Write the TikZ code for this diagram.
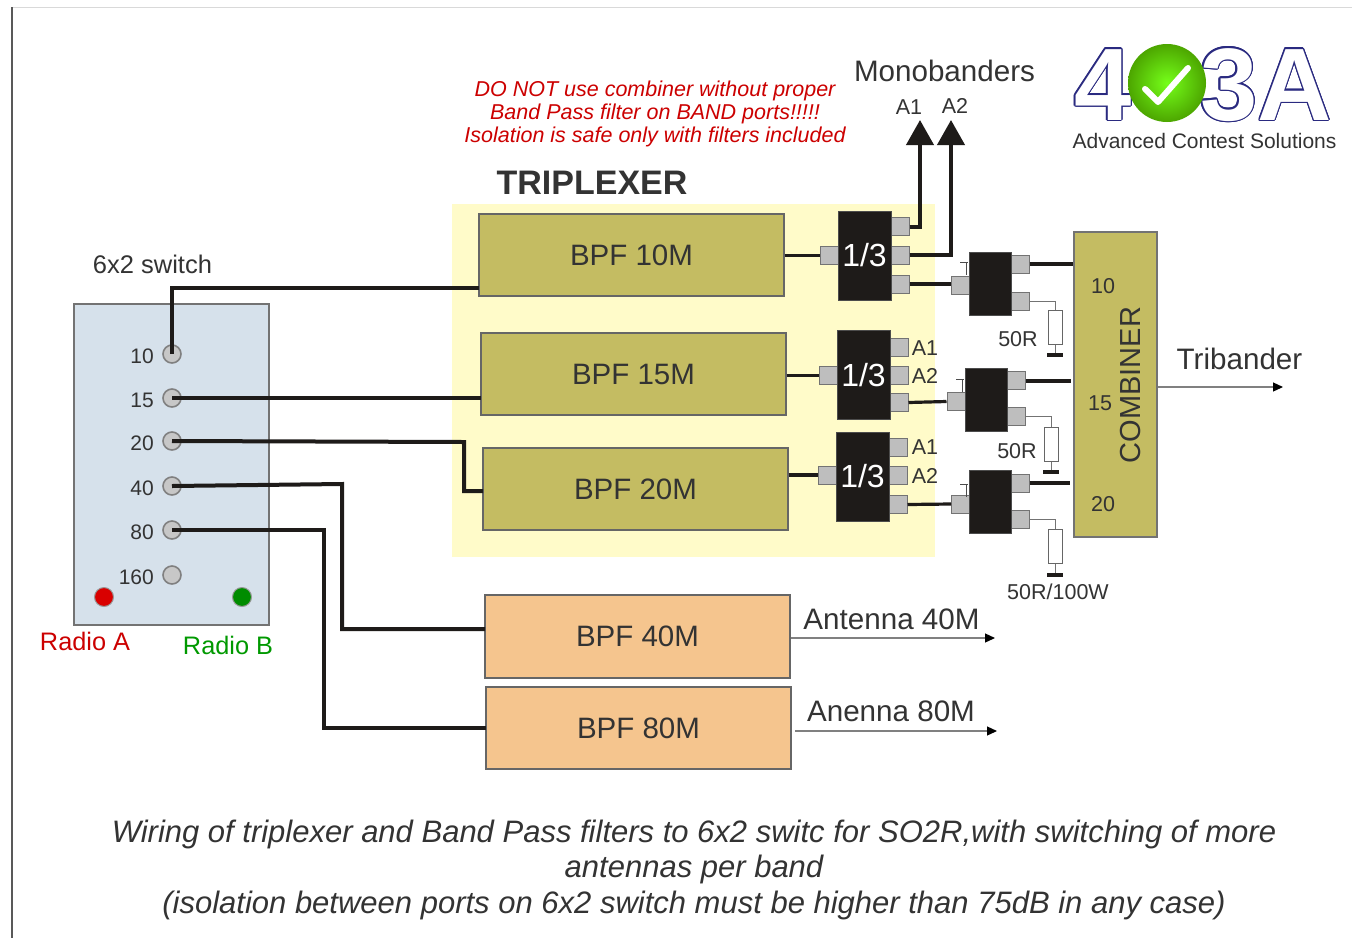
\documentclass[tikz,border=0pt]{standalone}
\usepackage{fontspec}
\usepackage{contour}
\setmainfont{Liberation Sans}
\usetikzlibrary{arrows.meta}
\definecolor{olivef}{HTML}{C4BC62}
\definecolor{oranf}{HTML}{F5C58E}
\definecolor{yelf}{HTML}{FFFBC9}
\definecolor{panelf}{HTML}{D6E1EB}
\definecolor{txt}{HTML}{333333}
\definecolor{blk}{HTML}{1E1B19}
\definecolor{portf}{HTML}{BEBEBE}
\definecolor{navyl}{HTML}{2A2A80}
\newcommand{\fsz}[1]{\fontsize{#1}{#1}\selectfont}
\tikzset{
 x=1pt,y=-1pt,
 lbl/.style={inner sep=0,text=txt,font=\fsz{21.5}},
 big/.style={inner sep=0,text=txt,font=\fsz{29.6}},
 bpfbox/.style={draw=black!60,line width=1.4pt,fill=olivef,inner sep=0,minimum width=305pt,minimum height=82pt,text=txt,font=\fsz{29.5}},
 bpfor/.style={bpfbox,fill=oranf},
 chip/.style={fill=blk,draw=black!70,line width=.5pt,inner sep=0,minimum width=53pt,minimum height=89pt,text=white,font=\fsz{32}},
 chipb/.style={fill=blk,draw=black!70,line width=.5pt,inner sep=0,minimum width=42pt,minimum height=63pt},
 port/.style={fill=portf,draw=black!55,line width=1pt,inner sep=0,minimum width=18pt,minimum height=18pt},
 res/.style={fill=white,draw=black!60,line width=1pt,inner sep=0,minimum width=14pt,minimum height=34pt},
 jack/.style={circle,fill=black!22,draw=black!50,line width=1.6pt,inner sep=0,minimum size=18pt},
 led/.style={circle,draw=black!40,line width=1pt,inner sep=0,minimum size=19pt},
 wire/.style={draw=blk,line width=4pt,line join=miter},
 wiret/.style={draw=blk,line width=3.2pt},
 thin lead/.style={draw=black!55,line width=1pt},
 gnd/.style={draw=blk,line width=4pt},
 bigarrow/.style={draw=blk,line width=4pt,-{Triangle[length=25pt,width=27pt]}},
 outarrow/.style={draw=black!50,line width=1.2pt,-{Triangle[length=10pt,width=9pt,color=black]}},
}
\begin{document}
\begin{tikzpicture}
\useasboundingbox (0,0) rectangle (1352,938);
\fill[white] (0,0) rectangle (1352,938);
\coordinate (ftl) at (12,7); \coordinate (ftr) at (1352,7); \coordinate (fbl) at (12,938);
\draw[black!15,line width=1pt] (ftl) -- (ftr);
\draw[black!65,line width=1.5pt] (ftl) -- (fbl);
\node[fill=yelf,inner sep=0,minimum width=483pt,minimum height=353pt] (yel) at (693.5,380.5) {};

% switch panel
\node[draw=black!55,line width=1.2pt,fill=panelf,inner sep=0,minimum width=195pt,minimum height=321pt] (panel) at (171.5,464.5) {};
\foreach \n/\y in {10/354,15/398,20/441,40/486,80/530,160/575}{
  \node[jack] (j\n) at (172,\y) {};
  \node[lbl,anchor=east,font=\fsz{21}] (t\n) at (154,\y+2) {\n};
}
\node[led,fill=red!85!black] (ledA) at (104,597) {};
\node[led,fill=green!55!black] (ledB) at (242,597) {};
\node[inner sep=0,text=red!80!black,font=\fsz{25.3}] (ra) at (85,641) {Radio A};
\node[inner sep=0,text=green!60!black,font=\fsz{25.3}] (rb) at (228,645) {Radio B};
\node[lbl,font=\fsz{25.5}] (sw) at (152.5,264) {6x2 switch};

% BPFs
\node[bpfbox] (b10) at (631.5,255) {BPF 10M};
\node[bpfbox] (b15) at (633.5,374) {BPF 15M};
\node[bpfbox] (b20) at (635.5,489) {BPF 20M};
\node[bpfor,minimum height=83pt] (b40) at (637.5,636.5) {BPF 40M};
\node[bpfor] (b80) at (638.5,728) {BPF 80M};

% 1/3 splitters
\node[port] (a1) at (829.5,255.5) {};
\node[port] (a2) at (900,226.5) {};
\node[port] (a3) at (900,255) {};
\node[port] (a4) at (900,284) {};
\node[chip] (s10) at (864.5,255.5) {1/3};
\node[port] (d1) at (828,375.5) {};
\node[port] (d2) at (899,347) {};
\node[port] (d3) at (899,375.5) {};
\node[port] (d4) at (899,402.5) {};
\node[chip] (s15) at (863.5,375) {1/3};
\node[port] (e1) at (827,475) {};
\node[port] (e2) at (898,447.5) {};
\node[port] (e3) at (898,475.5) {};
\node[port] (e4) at (898,504.5) {};
\node[chip] (s20) at (862.5,476.5) {1/3};
\node[lbl] (l1) at (925,348) {A1};
\node[lbl] (l2) at (925,376) {A2};
\node[lbl] (l3) at (925,447) {A1};
\node[lbl] (l4) at (925,476) {A2};

% second stage
\node[port] (f1) at (960,285.5) {};
\node[port] (f2) at (1020,264) {};
\node[port] (f3) at (1020,301) {};
\node[chipb] (c10) at (990,283.5) {};
\node[port] (g1) at (956,401.5) {};
\node[port] (g2) at (1016,380.5) {};
\node[port] (g3) at (1016,416) {};
\node[chipb] (c15) at (986,400) {};
\node[port] (h1) at (960.5,504) {};
\node[port] (h2) at (1020,483) {};
\node[port] (h3) at (1020,519) {};
\node[chipb] (c20) at (990,502) {};
\foreach \p/\x/\yy in {f/966/262,g/962/379,h/966/484}{
  \coordinate (\p t) at (\x,\yy);
  \draw[black!70,line width=1pt] (\x-6,\yy) -- (\x+2,\yy) (\x,\yy) -- (\x,\yy+13);
}

% resistors
\node[res] (r1) at (1055,327.5) {};
\node[res] (r2) at (1051,444) {};
\node[res] (r3) at (1055,546.5) {};
\coordinate (g1a) at (1055,355); \coordinate (g2a) at (1051,472); \coordinate (g3a) at (1055,575);
\draw[thin lead] (f3.east) -| (r1.north) (r1.south) -- (g1a);
\draw[thin lead] (g3.east) -| (r2.north) (r2.south) -- (g2a);
\draw[thin lead] (h3.east) -| (r3.north) (r3.south) -- (g3a);
\draw[gnd] ([xshift=-8pt]g1a) -- ([xshift=8pt]g1a);
\draw[gnd] ([xshift=-8pt]g2a) -- ([xshift=8pt]g2a);
\draw[gnd] ([xshift=-8pt]g3a) -- ([xshift=8pt]g3a);
\node[lbl] (o1) at (1018,339) {50R};
\node[lbl] (o2) at (1017,451) {50R};
\node[lbl] (o3) at (1058,592) {50R/100W};

% combiner
\node[draw=black!55,line width=1.2pt,fill=olivef,inner sep=0,minimum width=83pt,minimum height=305pt] (comb) at (1115.5,384.5) {};
\node[inner sep=0,text=txt,font=\fsz{29},rotate=90] (combt) at (1131,385) {COMBINER};
\node[lbl] (n10) at (1103,286) {10};
\node[lbl] (n15) at (1100,403) {15};
\node[lbl] (n20) at (1103,504) {20};

% wires chip-to-chip
\draw[wiret] (b10.east |- a1) -- (a1.west);
\draw[wiret] (b15.east |- d1) -- (d1.west);
\draw[wiret] (b20.east |- e1) -- (e1.west);
\draw[wiret] (a4.east) -- (f1.west |- a4);
\draw[wiret] (d4.east) -- (g1.west);
\draw[wiret] (e4.east) -- (h1.west);
\draw[wire] (f2.east) -- (comb.west |- f2);
\draw[wire] (g2.east) -- ([xshift=-2pt]comb.west |- g2);
\draw[wire] (h2.east) -- ([xshift=-3pt]comb.west |- h2);

% mono arrows
\node[lbl] (ma1) at (909,107) {A1};
\node[lbl] (ma2) at (955,106) {A2};
\coordinate (tip1) at (920,120); \coordinate (tip2) at (951,120);
\draw[bigarrow] (a2.east) -| (tip1);
\draw[bigarrow] (a3.east) -| (tip2);

% switch wires
\coordinate (w10) at (479,288);
\coordinate (w20a) at (464,442);
\coordinate (w20) at (483,491);
\coordinate (w40a) at (342,484);
\coordinate (w40) at (485,629);
\coordinate (w80) at (486,728);
\coordinate (w80a) at (324,530);
\coordinate (w15) at (481,398);
\draw[wire] (j10.center) |- (w10);
\draw[wire] (j15.center) -- (w15);
\draw[wire] (j20.center) -- (w20a) |- (w20);
\draw[wire] (j40.center) -- (w40a) |- (w40);
\draw[wire] (j80.center) -- (w80a) |- (w80);

% outputs
\coordinate (tri) at (1283,387);
\coordinate (an40) at (995,638); \coordinate (an80s) at (795,731); \coordinate (an80) at (997,731);
\draw[outarrow] (comb.east |- tri) -- (tri);
\draw[outarrow] (b40.east |- an40) -- (an40);
\draw[outarrow] (an80s) -- (an80);
\node[big] (ttri) at (1239.5,359) {Tribander};
\node[big] (t40) at (891.5,619) {Antenna 40M};
\node[big] (t80) at (891,711) {Anenna 80M};
\node[big] (tmono) at (944.5,71) {Monobanders};
\node[inner sep=0,text=txt,font=\bfseries\fsz{34}] (ttrip) at (592,183) {TRIPLEXER};

% warning
\node[inner sep=0,text=red!80!black,font=\itshape\fsz{21.5}] (w1) at (655,91) {DO NOT use combiner without proper};
\node[inner sep=0,text=red!80!black,font=\itshape\fsz{21.5}] (w2) at (655,114) {Band Pass filter on BAND ports!!!!!};
\node[inner sep=0,text=red!80!black,font=\itshape\fsz{21.5}] (w3) at (655,137) {Isolation is safe only with filters included};

% logo
\contourlength{1.4pt}
\node[inner sep=0,anchor=base,text=white,font=\bfseries\fsz{103}] (lg4) at (1103,120) {\contour{navyl}{4}};
\node[inner sep=0,anchor=base,text=white,font=\bfseries\fsz{103}] (lg3) at (1266,120) {\contour{navyl}{3A}};
\node[circle,inner sep=0,minimum size=78pt,inner color=green!60!yellow!90!white,outer color=green!50!black!70!yellow] (ball) at (1167,83) {};
\coordinate (ck1) at (1145,89); \coordinate (ck2) at (1158,102); \coordinate (ck3) at (1188,68);
\draw[white,line width=6pt,line cap=round,line join=round] (ck1) -- (ck2) -- (ck3);
\node[inner sep=0,text=txt,font=\fsz{21}] (lgt) at (1204.5,141) {Advanced Contest Solutions};

% caption
\node[inner sep=0,text=txt,font=\itshape\fsz{31}] (cap1) at (694,834) {Wiring of triplexer and Band Pass filters to 6x2 switc for SO2R,with switching of more};
\node[inner sep=0,text=txt,font=\itshape\fsz{31}] (cap2) at (694,869) {antennas per band};
\node[inner sep=0,text=txt,font=\itshape\fsz{31}] (cap3) at (694,905) {(isolation between ports on 6x2 switch must be higher than 75dB in any case)};
\end{tikzpicture}
\end{document}
